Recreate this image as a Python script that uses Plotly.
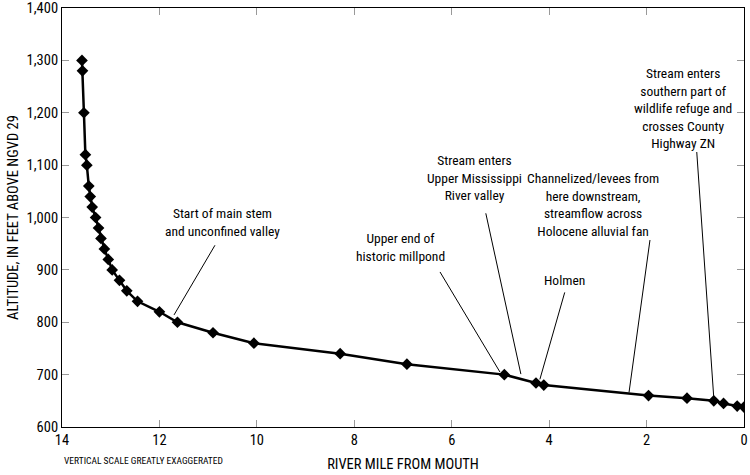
import plotly.graph_objects as go

# River mile from mouth and altitude (ft above NGVD 29)
river_mile = [13.59, 13.58, 13.55, 13.52, 13.49, 13.45, 13.42, 13.38, 13.31, 13.25,
              13.20, 13.13, 13.05, 12.97, 12.82, 12.67, 12.45, 12.00, 11.63, 10.90,
              10.06, 8.29, 6.92, 4.92, 4.27, 4.11, 1.96, 1.17, 0.62, 0.42, 0.14, 0.0]
altitude = [1300, 1280, 1200, 1120, 1100, 1060, 1040, 1020, 1000, 980,
            960, 940, 920, 900, 880, 860, 840, 820, 800, 780,
            760, 740, 720, 700, 684, 680, 660, 655, 650, 645, 640, 638]

x_ticks = [14, 12, 10, 8, 6, 4, 2, 0]
y_ticks = [600, 700, 800, 900, 1000, 1100, 1200, 1300, 1400]

# Callout labels: text, text position (mile, altitude), leader line from -> to
callout_text = [
    "Start of main stem<br>and unconfined valley",
    "Upper end of<br>historic millpond",
    "Stream enters<br>Upper Mississippi<br>River valley",
    "Holmen",
    "Channelized/levees from<br>here downstream,<br>streamflow across<br>Holocene alluvial fan",
    "Stream enters<br>southern part of<br>wildlife refuge and<br>crosses County<br>Highway ZN",
]
callout_x = [10.71, 7.06, 5.54, 3.68, 3.10, 1.26]
callout_y = [991, 944, 1076, 881, 1024, 1209]
leader_x0 = [10.86, 6.24, 5.30, 3.68, 1.93, 0.97]
leader_y0 = [947, 896, 1008, 857, 957, 1125]
leader_x1 = [11.70, 5.01, 4.58, 4.19, 2.36, 0.62]
leader_y1 = [814, 705, 701, 691, 666, 655]

FONT = "Roboto Condensed, DejaVu Sans Condensed, sans-serif"

fig = go.Figure()
fig.add_trace(go.Scatter(
    x=river_mile, y=altitude, mode="lines+markers",
    line=dict(color="black", width=2.5),
    marker=dict(symbol="diamond", size=9, color="black"),
    showlegend=False, hoverinfo="skip",
))

for t, tx, ty in zip(callout_text, callout_x, callout_y):
    fig.add_annotation(x=tx, y=ty, xref="x", yref="y", text=t, showarrow=False,
                       xanchor="center", yanchor="middle", align="center",
                       font=dict(family=FONT, size=13.5, color="black"))

for x0, y0, x1, y1 in zip(leader_x0, leader_y0, leader_x1, leader_y1):
    fig.add_shape(type="line", xref="x", yref="y", x0=x0, y0=y0, x1=x1, y1=y1,
                  line=dict(color="black", width=1))

fig.add_annotation(x=0, y=-0.062, xref="paper", yref="paper",
                   text="VERTICAL SCALE GREATLY EXAGGERATED", showarrow=False,
                   xanchor="left", yanchor="top",
                   font=dict(family=FONT, size=9.5, color="black"))

fig.update_layout(
    width=750, height=475,
    margin=dict(l=62, r=6, t=8, b=48),
    paper_bgcolor="white", plot_bgcolor="white",
    font=dict(family=FONT, size=14.5, color="black"),
)
fig.update_xaxes(
    range=[14, 0], tickvals=x_ticks, ticktext=[str(v) for v in x_ticks],
    showgrid=False, zeroline=False, showline=True, linecolor="black", linewidth=1,
    mirror="ticks", ticks="inside", ticklen=7, tickcolor="#999", automargin=False,
    title=dict(text="RIVER MILE FROM MOUTH", standoff=10,
               font=dict(family=FONT, size=14.5)),
    tickfont=dict(family=FONT, size=14.5),
)
fig.update_yaxes(
    range=[600, 1400], tickvals=y_ticks, ticktext=[f"{v:,}" for v in y_ticks],
    showgrid=False, zeroline=False, showline=True, linecolor="black", linewidth=1,
    mirror="ticks", ticks="inside", ticklen=7, tickcolor="#999", automargin=False,
    title=dict(text="ALTITUDE, IN FEET ABOVE NGVD 29", standoff=4,
               font=dict(family=FONT, size=14.5)),
    tickfont=dict(family=FONT, size=14.5),
)

fig.write_html("out.html", config={"displayModeBar": False},
               post_script="document.body.style.margin='0';")
